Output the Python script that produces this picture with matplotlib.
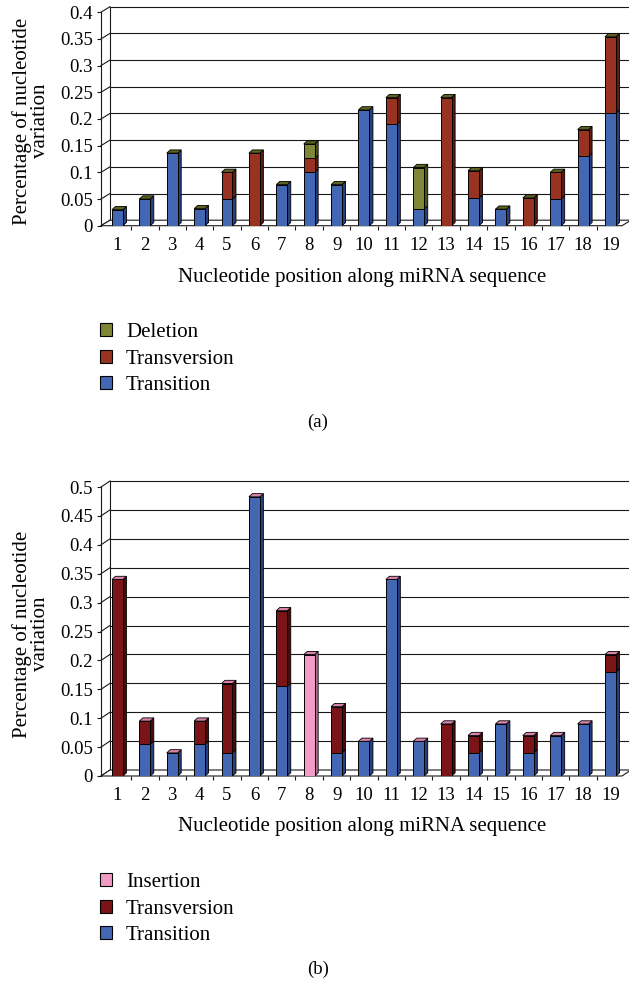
import matplotlib
matplotlib.use("Agg")
import matplotlib.pyplot as plt
from matplotlib.patches import Polygon, Patch
import numpy as np

plt.rcParams['font.family'] = ['Liberation Serif', 'DejaVu Serif']

# ---------------- data ----------------
positions = list(range(1, 20))
pos_labels = [str(p) for p in positions]

a_transition = [0.030, 0.050, 0.136, 0.032, 0.050, 0.000, 0.077, 0.100, 0.077, 0.217,
                0.190, 0.031, 0.000, 0.052, 0.031, 0.000, 0.050, 0.130, 0.211]
a_transversion = [0.000, 0.000, 0.000, 0.000, 0.050, 0.136, 0.000, 0.026, 0.000, 0.000,
                  0.050, 0.000, 0.240, 0.051, 0.000, 0.052, 0.050, 0.050, 0.143]
a_deletion = [0.000, 0.000, 0.000, 0.000, 0.000, 0.000, 0.000, 0.027, 0.000, 0.000,
              0.000, 0.078, 0.000, 0.000, 0.000, 0.000, 0.000, 0.000, 0.000]
a_yticks = [0, 0.05, 0.1, 0.15, 0.2, 0.25, 0.3, 0.35, 0.4]
a_ylabels = ['0', '0.05', '0.1', '0.15', '0.2', '0.25', '0.3', '0.35', '0.4']

b_transition = [0.000, 0.055, 0.040, 0.055, 0.040, 0.483, 0.155, 0.000, 0.040, 0.060,
                0.340, 0.060, 0.000, 0.040, 0.090, 0.040, 0.070, 0.090, 0.180]
b_transversion = [0.340, 0.040, 0.000, 0.040, 0.120, 0.000, 0.131, 0.000, 0.080, 0.000,
                  0.000, 0.000, 0.090, 0.030, 0.000, 0.030, 0.000, 0.000, 0.030]
b_insertion = [0.000, 0.000, 0.000, 0.000, 0.000, 0.000, 0.000, 0.210, 0.000, 0.000,
               0.000, 0.000, 0.000, 0.000, 0.000, 0.000, 0.000, 0.000, 0.000]
b_yticks = [0, 0.05, 0.1, 0.15, 0.2, 0.25, 0.3, 0.35, 0.4, 0.45, 0.5]
b_ylabels = ['0', '0.05', '0.1', '0.15', '0.2', '0.25', '0.3', '0.35', '0.4', '0.45', '0.5']

xlabel = 'Nucleotide position along miRNA sequence'
ylabel = 'Percentage of nucleotide\nvariation'

# ---------------- styling ----------------
W, H, DPI = 629, 986, 100
FS = 13.5       # tick labels
FL = 15         # axis labels / legend
BLUE, BLUE_S = '#4467B3', '#27407C'
RED_A, RED_A_S = '#983321', '#5B1C12'
OLIVE, OLIVE_S = '#7F8737', '#4E531D'
RED_B, RED_B_S = '#7A1416', '#480B0C'
PINK, PINK_S = '#F29BC6', '#B06F90'
TOP_A = '#5F621F'
TOP_B = '#D983AC'

fig = plt.figure(figsize=(W / DPI, H / DPI), dpi=DPI)


def px2fig(x, y_top, w, h):
    return [x / W, (H - y_top - h) / H, w / W, h / H]


def draw_panel(rect, series, ymax, yticks, ylabels, top_color, wall_dx=9, wall_dy=5.5,
               bar_dx=3.5, bar_dy=3.2, width=0.4):
    ax = fig.add_axes(rect)
    xlo, xhi = 0.4, 19.42
    ax.set_xlim(xlo, xhi)
    ax.set_ylim(0, ymax)
    ax.patch.set_visible(False)
    for s in ax.spines.values():
        s.set_visible(False)
    ax_w_px = rect[2] * W
    ax_h_px = rect[3] * H
    ux = (xhi - xlo) / ax_w_px
    uy = ymax / ax_h_px
    wdx, wdy = wall_dx * ux, wall_dy * uy
    bdx, bdy = bar_dx * ux, bar_dy * uy
    lc = '#1a1a1a'
    lw = 0.8
    floor = Polygon([(xlo, 0), (xhi, 0), (xhi + wdx, wdy), (xlo + wdx, wdy)],
                    closed=True, facecolor='white', edgecolor=lc, lw=lw,
                    clip_on=False, zorder=1)
    ax.add_patch(floor)
    for t in yticks:
        if t > 0:
            ax.plot([xlo + wdx, xhi + 3 * wdx], [t + wdy, t + wdy], color=lc, lw=lw,
                    clip_on=False, zorder=0.5)
        ax.plot([xlo, xlo + wdx], [t, t + wdy], color=lc, lw=lw, clip_on=False, zorder=0.5)
    ax.plot([xlo, xlo], [0, ymax], color=lc, lw=lw, clip_on=False, zorder=0.5)
    ax.plot([xlo + wdx, xlo + wdx], [wdy, ymax + wdy], color=lc, lw=lw, clip_on=False,
            zorder=0.5)
    bottoms = np.zeros(len(positions))
    for name, vals, col, scol in series:
        vals = np.asarray(vals)
        mask = vals > 0
        xs = np.asarray(positions)[mask]
        ax.bar(xs, vals[mask], width=width, bottom=bottoms[mask], color=col,
               edgecolor='black', lw=0.7, zorder=3, label=name)
        for x, b, h in zip(xs, bottoms[mask], vals[mask]):
            r = x + width / 2
            side = Polygon([(r, b), (r + bdx, b + bdy), (r + bdx, b + h + bdy), (r, b + h)],
                           closed=True, facecolor=scol, edgecolor='black', lw=0.6,
                           zorder=2.9)
            ax.add_patch(side)
        bottoms = bottoms + vals
    for x, t in zip(positions, bottoms):
        l, r = x - width / 2, x + width / 2
        top = Polygon([(l, t), (l + bdx, t + bdy), (r + bdx, t + bdy), (r, t)], closed=True,
                      facecolor=top_color, edgecolor='black', lw=0.6, zorder=3.1)
        ax.add_patch(top)
    ax.set_yticks(yticks)
    ax.set_yticklabels(ylabels, fontsize=FS)
    ax.tick_params(axis='y', length=3, width=0.8, pad=3, color=lc)
    ax.set_xticks(positions)
    ax.set_xticklabels(pos_labels, fontsize=FS)
    ax.tick_params(axis='x', length=0, pad=8)
    ax.set_xticks([p + 0.5 for p in positions[:-1]], minor=True)
    ax.tick_params(axis='x', which='minor', length=3, width=0.8, color=lc)
    return ax


ax_a = draw_panel(px2fig(101, 12.2, 521, 213.5),
                  [('Transition', a_transition, BLUE, BLUE_S),
                   ('Transversion', a_transversion, RED_A, RED_A_S),
                   ('Deletion', a_deletion, OLIVE, OLIVE_S)],
                  0.4, a_yticks, a_ylabels, TOP_A)
ax_b = draw_panel(px2fig(101, 487, 521, 289),
                  [('Transition', b_transition, BLUE, BLUE_S),
                   ('Transversion', b_transversion, RED_B, RED_B_S),
                   ('Insertion', b_insertion, PINK, PINK_S)],
                  0.5, b_yticks, b_ylabels, TOP_B, wall_dy=6)

fig.text(31 / W, 1 - 121 / H, ylabel, rotation=90, ha='center', va='center',
         fontsize=FL, linespacing=0.95)
fig.text(31 / W, 1 - 634 / H, ylabel, rotation=90, ha='center', va='center',
         fontsize=FL, linespacing=0.95)
fig.text(362 / W, 1 - 277 / H, xlabel, ha='center', va='center', fontsize=FL)
fig.text(362 / W, 1 - 826 / H, xlabel, ha='center', va='center', fontsize=FL)


def legend(ax, y_top, order):
    h, l = ax.get_legend_handles_labels()
    d = dict(zip(l, h))
    handles = [Patch(facecolor=d[n].patches[0].get_facecolor(), edgecolor='black', lw=0.8)
               for n in order]
    fig.legend(handles, order, loc='upper left', bbox_to_anchor=(100 / W, 1 - y_top / H),
               frameon=False, fontsize=FL, handlelength=0.58, handleheight=0.58,
               handletextpad=0.67, labelspacing=0.36, borderaxespad=0, borderpad=0)


legend(ax_a, 323, ['Deletion', 'Transversion', 'Transition'])
legend(ax_b, 873, ['Insertion', 'Transversion', 'Transition'])

fig.text(318 / W, 1 - 422 / H, '(a)', ha='center', va='center', fontsize=FS)
fig.text(318 / W, 1 - 969 / H, '(b)', ha='center', va='center', fontsize=FS)

fig.savefig('out.png', dpi=DPI)
